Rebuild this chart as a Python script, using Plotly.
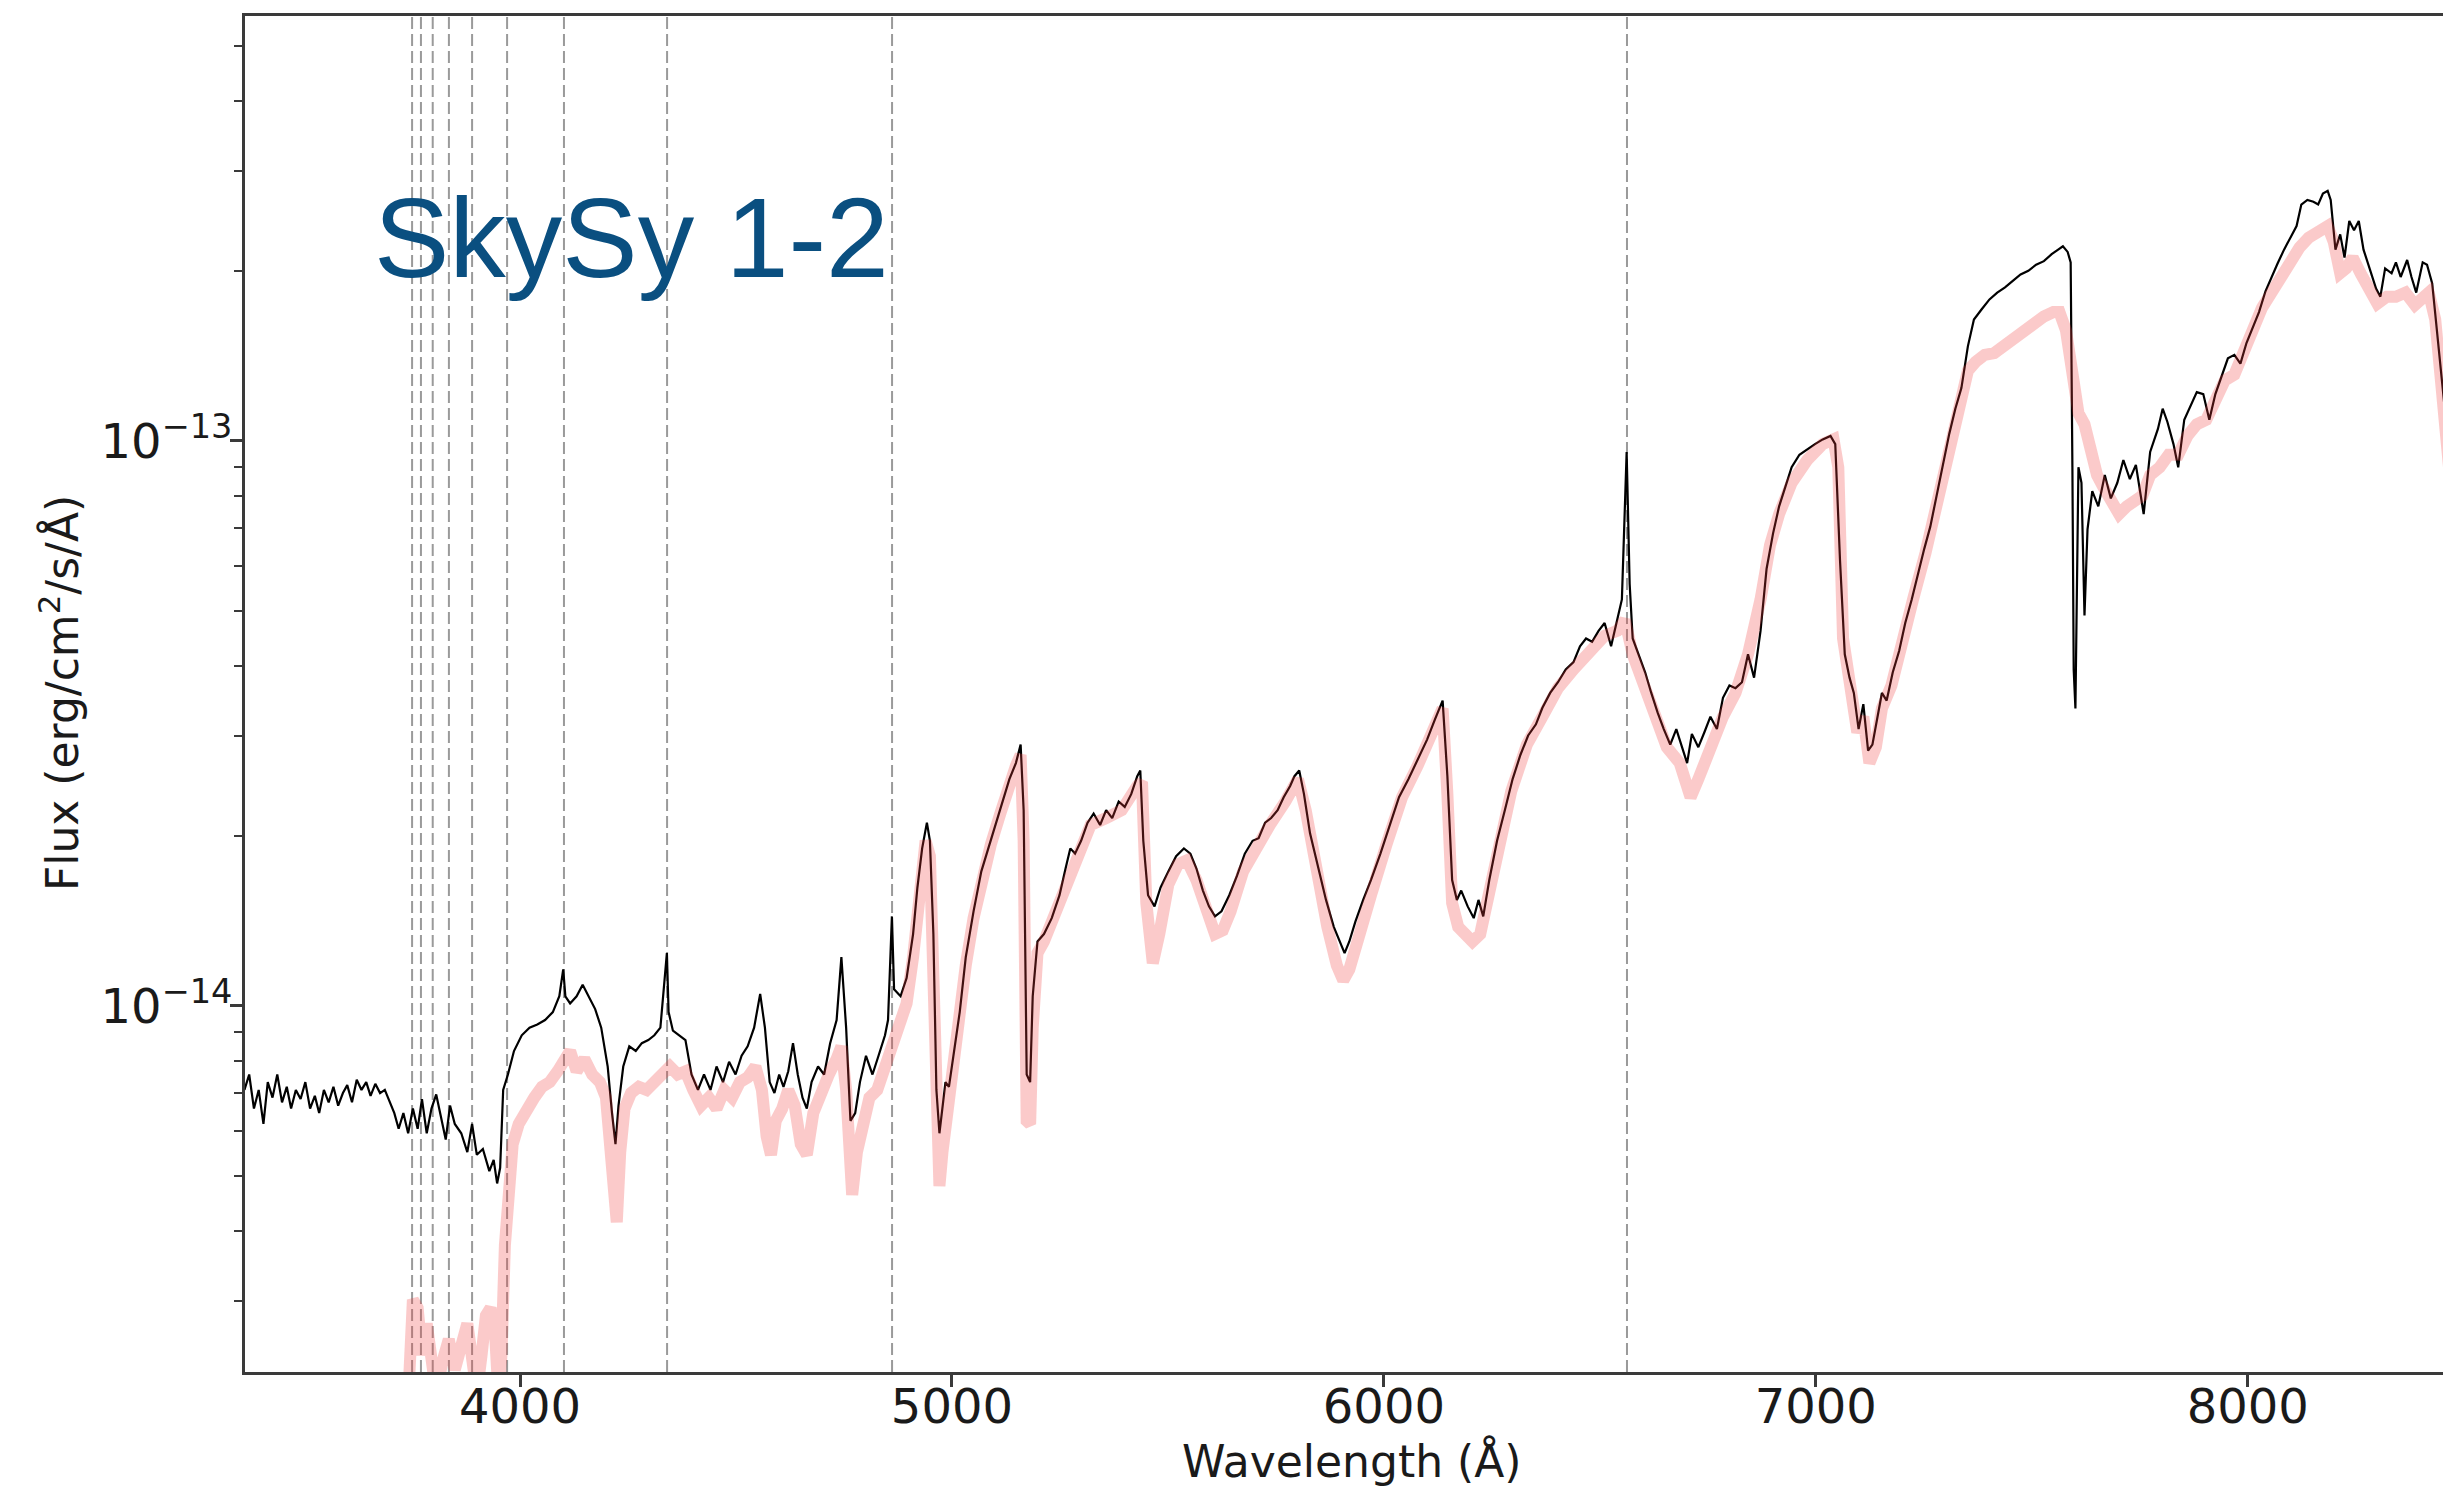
import plotly.graph_objects as go

# ---------------- data (flux in units of 1e-14 erg/cm2/s/A) ----------------
OBS_WAVE = [3362, 3373, 3384, 3395, 3406, 3416, 3427, 3438, 3449, 3460, 3470, 3481, 3492, 3503, 3514, 3525,
            3535, 3546, 3557, 3568, 3579, 3590, 3600, 3611, 3622, 3633, 3644, 3654, 3665, 3676, 3687, 3698,
            3709, 3719, 3730, 3741, 3752, 3763, 3773, 3784, 3795, 3806, 3817, 3828, 3838, 3849, 3864, 3878,
            3889, 3900, 3914, 3929, 3939, 3947, 3954, 3961, 3972, 3986, 4004, 4022, 4040, 4058, 4076, 4091,
            4100, 4105, 4116, 4131, 4145, 4159, 4174, 4188, 4203, 4213, 4221, 4228, 4239, 4253, 4268, 4282,
            4297, 4311, 4325, 4340, 4344, 4354, 4369, 4383, 4397, 4412, 4426, 4441, 4455, 4470, 4484, 4499,
            4513, 4527, 4542, 4556, 4567, 4578, 4589, 4600, 4610, 4621, 4632, 4643, 4654, 4664, 4675, 4690,
            4704, 4718, 4733, 4744, 4755, 4765, 4776, 4787, 4801, 4816, 4830, 4845, 4852, 4861, 4866, 4881,
            4895, 4910, 4920, 4931, 4942, 4949, 4957, 4964, 4971, 4978, 4985, 4993, 5003, 5018, 5032, 5050,
            5068, 5090, 5112, 5133, 5148, 5159, 5166, 5173, 5181, 5187, 5198, 5213, 5231, 5249, 5263, 5274,
            5285, 5299, 5314, 5328, 5343, 5357, 5371, 5386, 5400, 5415, 5429, 5436, 5443, 5454, 5469, 5483,
            5501, 5519, 5537, 5552, 5566, 5581, 5595, 5609, 5624, 5642, 5660, 5678, 5696, 5710, 5725, 5739,
            5754, 5768, 5783, 5793, 5804, 5815, 5829, 5847, 5866, 5884, 5898, 5909, 5920, 5934, 5952, 5970,
            5992, 6013, 6035, 6057, 6078, 6100, 6118, 6136, 6147, 6158, 6169, 6179, 6194, 6208, 6219, 6230,
            6244, 6262, 6280, 6298, 6316, 6334, 6352, 6367, 6385, 6403, 6421, 6439, 6454, 6468, 6482, 6497,
            6511, 6526, 6540, 6551, 6562, 6569, 6576, 6590, 6605, 6619, 6634, 6648, 6663, 6677, 6692, 6702,
            6713, 6728, 6742, 6756, 6771, 6785, 6800, 6814, 6829, 6843, 6857, 6872, 6886, 6901, 6915, 6930,
            6944, 6962, 6980, 6998, 7016, 7034, 7045, 7056, 7067, 7078, 7088, 7099, 7110, 7121, 7131, 7142,
            7153, 7164, 7178, 7193, 7207, 7222, 7236, 7251, 7265, 7280, 7294, 7309, 7323, 7337, 7352, 7366,
            7384, 7402, 7420, 7438, 7456, 7474, 7492, 7510, 7528, 7546, 7561, 7572, 7583, 7590, 7594, 7597,
            7601, 7604, 7608, 7615, 7622, 7629, 7640, 7654, 7669, 7683, 7698, 7712, 7727, 7741, 7759, 7774,
            7792, 7803, 7814, 7828, 7839, 7853, 7868, 7882, 7897, 7911, 7925, 7940, 7954, 7969, 7983, 7997,
            8012, 8026, 8041, 8055, 8069, 8084, 8098, 8113, 8124, 8138, 8152, 8163, 8174, 8185, 8192, 8203,
            8214, 8224, 8235, 8246, 8257, 8268, 8282, 8297, 8307, 8318, 8333, 8343, 8354, 8369, 8379, 8390,
            8405, 8415, 8427, 8437, 8452, 8466]
OBS_FLUX = [0.710, 0.756, 0.658, 0.710, 0.618, 0.733, 0.688, 0.756, 0.675, 0.719, 0.658, 0.710, 0.684, 0.733, 0.658, 0.693,
            0.646, 0.710, 0.675, 0.719, 0.666, 0.701, 0.724, 0.675, 0.740, 0.710, 0.733, 0.693, 0.728, 0.701, 0.710, 0.675,
            0.646, 0.606, 0.646, 0.595, 0.658, 0.606, 0.684, 0.595, 0.658, 0.697, 0.633, 0.580, 0.666, 0.618, 0.595, 0.551,
            0.618, 0.545, 0.558, 0.510, 0.534, 0.485, 0.517, 0.710, 0.756, 0.832, 0.887, 0.915, 0.927, 0.944, 0.975, 1.04,
            1.16, 1.04, 1.01, 1.04, 1.09, 1.04, 0.987, 0.915, 0.781, 0.646, 0.569, 0.666, 0.781, 0.848, 0.832, 0.859,
            0.870, 0.887, 0.915, 1.24, 0.975, 0.904, 0.887, 0.870, 0.756, 0.710, 0.756, 0.710, 0.781, 0.733, 0.796, 0.756,
            0.816, 0.848, 0.915, 1.05, 0.915, 0.733, 0.701, 0.756, 0.719, 0.766, 0.859, 0.756, 0.688, 0.658, 0.733, 0.781,
            0.756, 0.859, 0.944, 1.22, 0.915, 0.626, 0.646, 0.733, 0.816, 0.756, 0.816, 0.887, 0.944, 1.44, 1.07, 1.04,
            1.12, 1.34, 1.62, 1.90, 2.11, 1.96, 1.34, 0.710, 0.595, 0.658, 0.733, 0.719, 0.806, 0.975, 1.22, 1.47,
            1.73, 1.96, 2.22, 2.52, 2.69, 2.90, 2.22, 0.756, 0.733, 1.04, 1.30, 1.34, 1.43, 1.57, 1.75, 1.90,
            1.86, 1.96, 2.11, 2.19, 2.09, 2.22, 2.15, 2.30, 2.25, 2.37, 2.55, 2.61, 1.96, 1.57, 1.50, 1.62,
            1.73, 1.84, 1.90, 1.86, 1.75, 1.60, 1.50, 1.44, 1.47, 1.57, 1.70, 1.86, 1.96, 1.98, 2.11, 2.15,
            2.22, 2.34, 2.45, 2.55, 2.61, 2.37, 2.02, 1.78, 1.54, 1.38, 1.30, 1.24, 1.30, 1.41, 1.54, 1.67,
            1.86, 2.09, 2.34, 2.52, 2.72, 2.96, 3.21, 3.47, 2.55, 1.67, 1.54, 1.60, 1.50, 1.43, 1.54, 1.44,
            1.67, 1.96, 2.22, 2.52, 2.78, 3.01, 3.15, 3.37, 3.58, 3.74, 3.94, 4.06, 4.33, 4.47, 4.41, 4.61,
            4.76, 4.33, 4.82, 5.24, 9.56, 5.58, 4.47, 4.19, 3.89, 3.58, 3.30, 3.09, 2.90, 3.09, 2.83, 2.69,
            3.03, 2.87, 3.05, 3.25, 3.09, 3.51, 3.69, 3.65, 3.74, 4.19, 3.81, 4.61, 5.94, 6.86, 7.66, 8.34,
            8.98, 9.45, 9.67, 9.87, 10.06, 10.2, 9.87, 6.14, 4.19, 3.81, 3.58, 3.09, 3.42, 2.83, 2.90, 3.25,
            3.58, 3.47, 3.89, 4.25, 4.76, 5.24, 5.82, 6.44, 7.05, 8.0, 9.07, 10.3, 11.4, 12.4, 14.7, 16.4,
            17.1, 17.8, 18.3, 18.7, 19.2, 19.7, 20.0, 20.5, 20.8, 21.4, 21.8, 22.1, 21.6, 20.7, 8.98, 3.94,
            3.36, 5.40, 8.98, 8.43, 4.91, 6.97, 8.15, 7.66, 8.70, 7.91, 8.43, 9.25, 8.56, 9.07, 7.42, 9.56,
            10.5, 11.4, 10.8, 9.87, 8.98, 10.9, 11.6, 12.2, 12.1, 10.9, 12.1, 13.1, 14.0, 14.2, 13.7, 14.9,
            15.9, 16.9, 18.4, 19.5, 20.6, 21.8, 22.9, 24.0, 26.2, 26.7, 26.5, 26.2, 27.4, 27.7, 26.7, 21.8,
            23.2, 21.1, 24.5, 23.6, 24.5, 21.8, 20.2, 18.6, 18.0, 20.2, 19.8, 20.7, 19.5, 20.9, 19.5, 18.3,
            20.7, 20.5, 19.0, 15.9, 11.9, 9.56]

MODEL_WAVE = [3741, 3752, 3763, 3773, 3784, 3795, 3806, 3820, 3835, 3849, 3864, 3878, 3889, 3900, 3911, 3921,
              3932, 3943, 3950, 3957, 3965, 3972, 3983, 3997, 4015, 4033, 4051, 4069, 4087, 4102, 4116, 4131,
              4149, 4167, 4185, 4199, 4210, 4217, 4224, 4232, 4242, 4257, 4275, 4293, 4311, 4329, 4347, 4365,
              4383, 4401, 4419, 4437, 4455, 4473, 4491, 4509, 4527, 4545, 4560, 4571, 4581, 4592, 4607, 4621,
              4636, 4650, 4664, 4679, 4697, 4715, 4733, 4744, 4755, 4762, 4769, 4780, 4794, 4809, 4827, 4845,
              4859, 4877, 4895, 4910, 4924, 4939, 4949, 4957, 4964, 4971, 4978, 4989, 5003, 5018, 5032, 5050,
              5068, 5090, 5112, 5133, 5148, 5159, 5166, 5173, 5181, 5187, 5198, 5213, 5249, 5285, 5321, 5357,
              5393, 5429, 5440, 5450, 5465, 5480, 5501, 5523, 5544, 5566, 5588, 5609, 5627, 5645, 5674, 5703,
              5736, 5772, 5801, 5819, 5844, 5869, 5891, 5906, 5920, 5941, 5970, 6006, 6042, 6078, 6114, 6136,
              6147, 6158, 6172, 6187, 6205, 6223, 6241, 6266, 6295, 6331, 6367, 6403, 6439, 6475, 6511, 6540,
              6558, 6576, 6601, 6626, 6655, 6685, 6710, 6728, 6756, 6785, 6814, 6843, 6872, 6894, 6915, 6944,
              6980, 7016, 7041, 7052, 7063, 7078, 7096, 7110, 7124, 7139, 7153, 7175, 7196, 7225, 7254, 7283,
              7312, 7334, 7352, 7370, 7391, 7413, 7442, 7470, 7499, 7528, 7550, 7564, 7579, 7594, 7608, 7622,
              7637, 7651, 7665, 7683, 7702, 7720, 7738, 7756, 7774, 7796, 7817, 7839, 7860, 7882, 7904, 7925,
              7947, 7969, 7990, 8012, 8033, 8055, 8076, 8098, 8120, 8141, 8163, 8185, 8199, 8214, 8228, 8243,
              8261, 8279, 8300, 8322, 8343, 8365, 8387, 8405, 8419, 8434, 8452, 8466]
MODEL_FLUX = [0.20, 0.302, 0.292, 0.241, 0.274, 0.227, 0.206, 0.234, 0.257, 0.227, 0.254, 0.274, 0.238, 0.206, 0.241, 0.283,
              0.292, 0.257, 0.206, 0.241, 0.377, 0.485, 0.569, 0.618, 0.658, 0.688, 0.719, 0.733, 0.766, 0.806, 0.832, 0.766,
              0.806, 0.756, 0.733, 0.688, 0.551, 0.428, 0.414, 0.551, 0.658, 0.701, 0.719, 0.710, 0.733, 0.756, 0.781, 0.756,
              0.766, 0.710, 0.666, 0.688, 0.658, 0.710, 0.688, 0.733, 0.747, 0.781, 0.710, 0.587, 0.545, 0.626, 0.658, 0.710,
              0.666, 0.569, 0.545, 0.646, 0.710, 0.756, 0.806, 0.848, 0.710, 0.485, 0.463, 0.551, 0.626, 0.688, 0.710, 0.781,
              0.859, 0.944, 1.01, 1.22, 1.62, 1.96, 1.84, 1.18, 0.587, 0.480, 0.551, 0.658, 0.756, 0.944, 1.18, 1.43,
              1.67, 1.93, 2.19, 2.49, 2.66, 2.78, 1.96, 0.626, 0.618, 0.915, 1.24, 1.30, 1.52, 1.80, 2.09, 2.15,
              2.22, 2.45, 2.49, 1.52, 1.19, 1.34, 1.64, 1.78, 1.81, 1.67, 1.47, 1.34, 1.36, 1.47, 1.73, 1.90,
              2.09, 2.30, 2.52, 2.22, 1.73, 1.38, 1.18, 1.11, 1.16, 1.34, 1.57, 1.93, 2.34, 2.66, 3.09, 3.36,
              2.37, 1.52, 1.38, 1.34, 1.30, 1.34, 1.52, 1.90, 2.40, 2.90, 3.25, 3.65, 3.94, 4.25, 4.52, 4.61,
              4.82, 4.19, 3.74, 3.25, 2.87, 2.69, 2.34, 2.52, 2.90, 3.25, 3.58, 4.19, 5.24, 6.54, 7.42, 8.43,
              9.25, 9.87, 10.06, 8.98, 4.47, 3.69, 3.05, 3.25, 2.69, 2.87, 3.36, 3.69, 4.33, 5.24, 6.34, 8.0,
              10.2, 11.9, 13.3, 13.8, 14.2, 14.3, 14.9, 15.5, 16.1, 16.6, 16.9, 16.9, 15.7, 13.1, 11.2, 10.7,
              9.56, 8.70, 8.30, 7.79, 7.42, 7.66, 7.79, 8.0, 8.70, 8.98, 9.45, 9.45, 10.2, 10.7, 10.9, 11.7,
              12.8, 13.1, 14.4, 15.7, 17.2, 18.3, 19.5, 20.6, 22.0, 22.9, 23.5, 24.0, 22.5, 19.8, 20.2, 21.1,
              19.8, 18.6, 17.5, 18.0, 18.0, 18.3, 17.4, 17.9, 18.3, 16.4, 11.4, 8.98]

FLUX_UNIT = 1e-14

BALMER_LINES = [3750.15, 3770.63, 3797.90, 3835.38, 3889.05, 3970.07, 4101.74, 4340.47, 4861.33, 6562.80]

X_TICKS = [4000, 5000, 6000, 7000, 8000]
Y_MAJOR = [1e-14, 1e-13]
Y_MAJOR_TEXT = ["10<sup>\u221214</sup>", "10<sup>\u221213</sup>"]
Y_MINOR = [k * 10.0 ** e for e in (-15, -14, -13) for k in range(2, 10)]

LABEL = "SkySy 1-2"

# ---------------- figure ----------------
FONT = "DejaVu Sans"
TXT = "#1a1a1a"
AX = "#3a3a3a"

fig = go.Figure()

fig.add_trace(go.Scatter(
    x=OBS_WAVE, y=[f * FLUX_UNIT for f in OBS_FLUX], mode="lines",
    line=dict(color="black", width=2.2), hoverinfo="skip"))

fig.add_trace(go.Scatter(
    x=MODEL_WAVE, y=[f * FLUX_UNIT for f in MODEL_FLUX], mode="lines",
    line=dict(color="rgba(240,60,60,0.27)", width=12), hoverinfo="skip"))

for wl in BALMER_LINES:
    fig.add_shape(type="line", xref="x", yref="paper", x0=wl, x1=wl, y0=0, y1=1,
                  line=dict(color="#9a9a9a", width=2, dash="12px,5px"), layer="below")

fig.add_annotation(text="Wavelength (\u00c5)", xref="paper", yref="paper",
                   x=0.5036, y=-0.0656, xanchor="center", yanchor="middle", showarrow=False,
                   font=dict(family=FONT, size=44, color=TXT))
fig.add_annotation(text="Flux (erg/cm<sup>2</sup>/s/\u00c5)", xref="paper", yref="paper",
                   x=-0.0846, y=0.5007, xanchor="center", yanchor="middle", showarrow=False,
                   textangle=-90, font=dict(family=FONT, size=44, color=TXT))
fig.add_annotation(text=LABEL, xref="paper", yref="paper",
                   x=0.058, y=0.836, xanchor="left", yanchor="middle", showarrow=False,
                   font=dict(family="Liberation Sans, Arial, sans-serif", size=113, color="#0a4f80"))

fig.update_layout(
    width=2443, height=1490,
    margin=dict(l=245, r=0, t=16, b=118, pad=0),
    paper_bgcolor="white", plot_bgcolor="white",
    showlegend=False,
    font=dict(family=FONT, size=44, color=TXT),
    xaxis=dict(
        range=[3363.3, 8452], showgrid=False, zeroline=False,
        showline=True, linecolor=AX, linewidth=3, mirror=True,
        ticks="outside", ticklen=12, tickwidth=2.5, tickcolor=AX,
        tickmode="array", tickvals=X_TICKS, ticktext=[str(v) for v in X_TICKS],
        tickfont=dict(family=FONT, size=48, color=TXT),
        ticklabelstandoff=-22,
    ),
    yaxis=dict(
        type="log", range=[-14.648, -12.248], showgrid=False, zeroline=False,
        showline=True, linecolor=AX, linewidth=3, mirror=False,
        ticks="outside", ticklen=12, tickwidth=2.5, tickcolor=AX,
        tickmode="array", tickvals=Y_MAJOR, ticktext=Y_MAJOR_TEXT,
        tickfont=dict(family=FONT, size=48, color=TXT),
        ticklabelstandoff=-12,
        minor=dict(tickmode="array", tickvals=Y_MINOR, ticks="outside", ticklen=8,
                   tickwidth=2, tickcolor=AX, showgrid=False),
    ),
)

fig.write_html("out.html")
